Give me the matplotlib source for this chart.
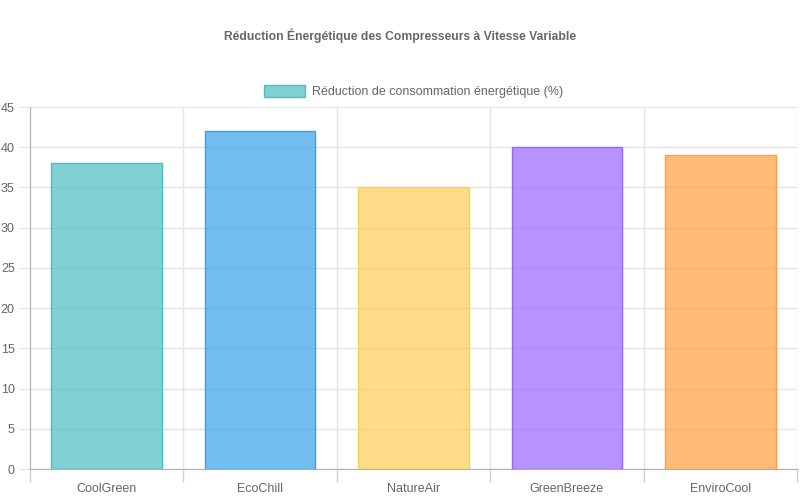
import numpy as np
import matplotlib.pyplot as plt

plt.rcParams['font.family'] = ['Liberation Sans', 'DejaVu Sans']

categories = ['CoolGreen', 'EcoChill', 'NatureAir', 'GreenBreeze', 'EnviroCool']
reduction = [38, 42, 35, 40, 39]
fill_colors = [(75/255, 192/255, 192/255, 0.7), (54/255, 162/255, 235/255, 0.7),
               (255/255, 206/255, 86/255, 0.7), (153/255, 102/255, 255/255, 0.7),
               (255/255, 159/255, 64/255, 0.7)]
edge_colors = ['#4bc0c0', '#36a2eb', '#ffce56', '#9966ff', '#ff9f40']

fig = plt.figure(figsize=(8, 5), dpi=100)
ax = fig.add_axes([30/800, 31/500, 767/800, 362/500])

x = np.arange(len(categories))
ax.bar(x, reduction, width=0.72, color=fill_colors, edgecolor=edge_colors,
       linewidth=1, label='Réduction de consommation énergétique (%)', zorder=3)

ax.set_xlim(-0.5, len(categories) - 0.5)
ax.set_ylim(0, 45)
ax.set_yticks(range(0, 46, 5))
ax.set_xticks(x)
ax.set_xticklabels(categories)
ax.set_xticks(np.arange(-0.5, len(categories)), minor=True)

ax.grid(True, which='major', axis='y', color='#e5e5e5', lw=1, zorder=0)
ax.grid(True, which='minor', axis='x', color='#e5e5e5', lw=1, zorder=0)
ax.tick_params(axis='x', which='major', length=0, pad=10, labelsize=9, labelcolor='#666666')
ax.tick_params(axis='x', which='minor', length=9, color='#d0d0d0', width=1)
ax.tick_params(axis='y', length=8, color='#e5e5e5', pad=3, labelsize=9, labelcolor='#666666')

for side in ['top', 'right']:
    ax.spines[side].set_visible(False)
ax.spines['left'].set_color('#b0b0b0')
ax.spines['bottom'].set_color('#b0b0b0')

fig.text(0.5, 1 - 36/500, 'Réduction Énergétique des Compresseurs à Vitesse Variable',
         ha='center', va='center', fontsize=8.7, fontweight='bold', color='#666666')

ax.legend(loc='lower center', bbox_to_anchor=(0.5, 1.0), frameon=False,
          fontsize=9, labelcolor='#666666', handlelength=3.3, handleheight=1.0,
          handletextpad=0.5, borderaxespad=0.3)

fig.savefig('out.png', dpi=100)
